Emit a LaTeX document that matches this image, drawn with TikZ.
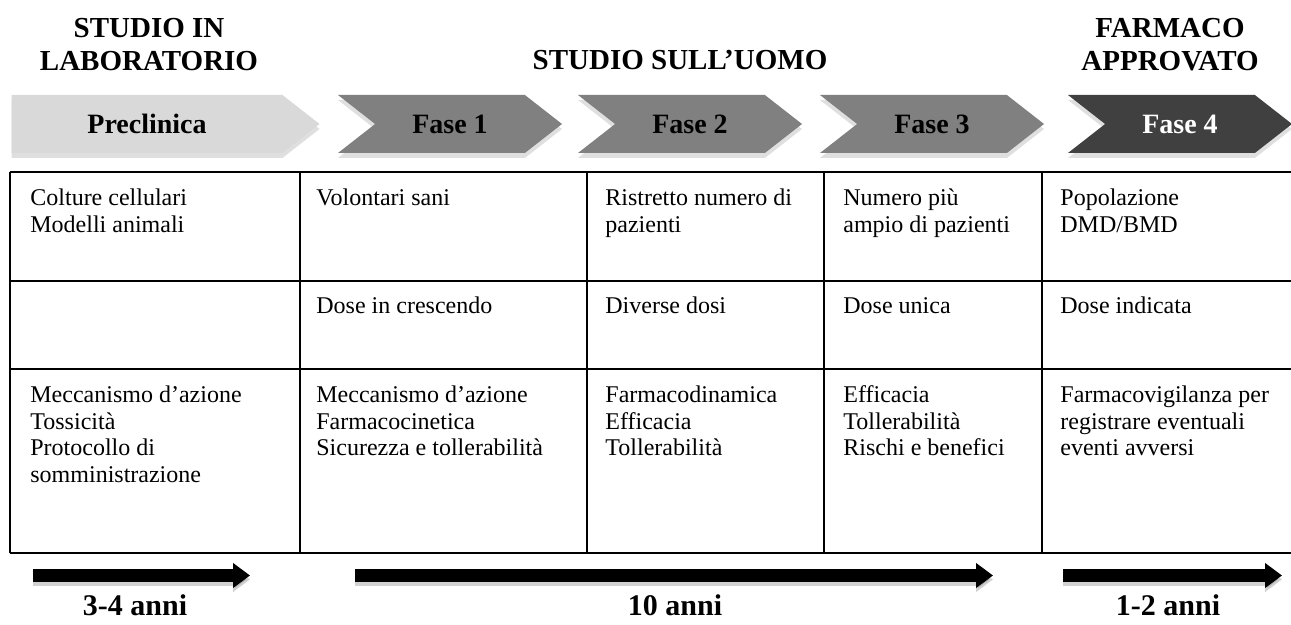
\documentclass[tikz,border=0pt]{standalone}
\usepackage{fontspec}
\setmainfont{Liberation Serif}
\usetikzlibrary{shapes.symbols,arrows.meta,shadows}

\definecolor{lightph}{HTML}{D9D9D9}
\definecolor{midph}{HTML}{808080}
\definecolor{darkph}{HTML}{404040}

\tikzset{
  phase/.style={shape=signal,signal to=east,signal from=west,signal pointer angle=76,
    minimum width=112pt,minimum height=29pt,inner sep=0pt,fill=midph,
    font=\fontsize{14}{16}\selectfont\bfseries,
    drop shadow={shadow xshift=0pt,shadow yshift=-2.5pt,opacity=0.25}},
  cell/.style={anchor=north west,inner sep=0pt,align=left,font=\fontsize{12}{13.25}\selectfont},
  heading/.style={align=center,inner sep=0pt,font=\fontsize{14.5}{16.5}\selectfont\bfseries},
  span/.style={line width=6.5pt,-{Triangle[width=12pt,length=8.5pt]}},
  spanshadow/.style={line width=6.5pt,draw=black,opacity=0.18,-{Triangle[width=12pt,length=8.5pt]}},
}

\begin{document}
\begin{tikzpicture}[x=0.5pt,y=-0.5pt]
\useasboundingbox (0,0) rectangle (1291,625);

% titles
\node[heading,anchor=north] (T1) at (149,18) {STUDIO IN\\LABORATORIO};
\node[heading,anchor=base] (T2) at (680,70) {STUDIO SULL’UOMO};
\node[heading,anchor=north] (T3) at (1170,18) {FARMACO\\APPROVATO};

% phases
\node[phase,signal from=nowhere,fill=lightph,minimum width=154pt] (P0) at (147,124) {Preclinica};
\foreach \lab/\x [count=\n] in {Fase 1/450,Fase 2/690,Fase 3/932}
  \node[phase] (P\n) at (\x,124) {\lab};
\node[phase,fill=darkph,text=white] (P4) at (1180,124) {Fase 4};

% table
\foreach \y in {172,281,369,553}
  \draw[line width=1pt] (10,\y) -- (1291,\y);
\foreach \x in {10,300,587,824,1042}
  \draw[line width=1pt] (\x,172) -- (\x,553);

\foreach \txt/\x [count=\n] in {{Colture cellulari\\Modelli animali}/30,{Volontari sani}/316,
    {Ristretto numero di\\pazienti}/605,{Numero più\\ampio di pazienti}/843,{Popolazione\\DMD/BMD}/1060}
  \node[cell] (A\n) at (\x,188.5) {\txt};
\foreach \txt/\x [count=\n from 2] in {{Dose in crescendo}/316,{Diverse dosi}/605,
    {Dose unica}/843,{Dose indicata}/1060}
  \node[cell,anchor=base west] (B\n) at (\x,313.5) {\txt};
\foreach \txt/\x [count=\n] in {{Meccanismo d’azione\\Tossicità\\Protocollo di\\somministrazione}/30,
    {Meccanismo d’azione\\Farmacocinetica\\Sicurezza e tollerabilità}/316,
    {Farmacodinamica\\Efficacia\\Tollerabilità}/605,
    {Efficacia\\Tollerabilità\\Rischi e benefici}/843,
    {Farmacovigilanza per\\registrare eventuali\\eventi avversi}/1060}
  \node[cell] (C\n) at (\x,385.5) {\txt};

% durations
\foreach \a/\b [count=\n] in {33/250,355/993,1063/1282}{
  \coordinate (S\n) at (\a,575.5);
  \coordinate (E\n) at (\b,575.5);
  \draw[spanshadow] ([yshift=-2pt]S\n) -- ([yshift=-2pt]E\n);
  \draw[span] (S\n) -- (E\n);
}
\node[heading,font=\fontsize{15}{17}\selectfont\bfseries,anchor=base] (D1) at (135,615) {3-4 anni};
\node[heading,font=\fontsize{15}{17}\selectfont\bfseries,anchor=base] (D2) at (675,615) {10 anni};
\node[heading,font=\fontsize{15}{17}\selectfont\bfseries,anchor=base] (D3) at (1168,615) {1-2 anni};
\end{tikzpicture}
\end{document}
